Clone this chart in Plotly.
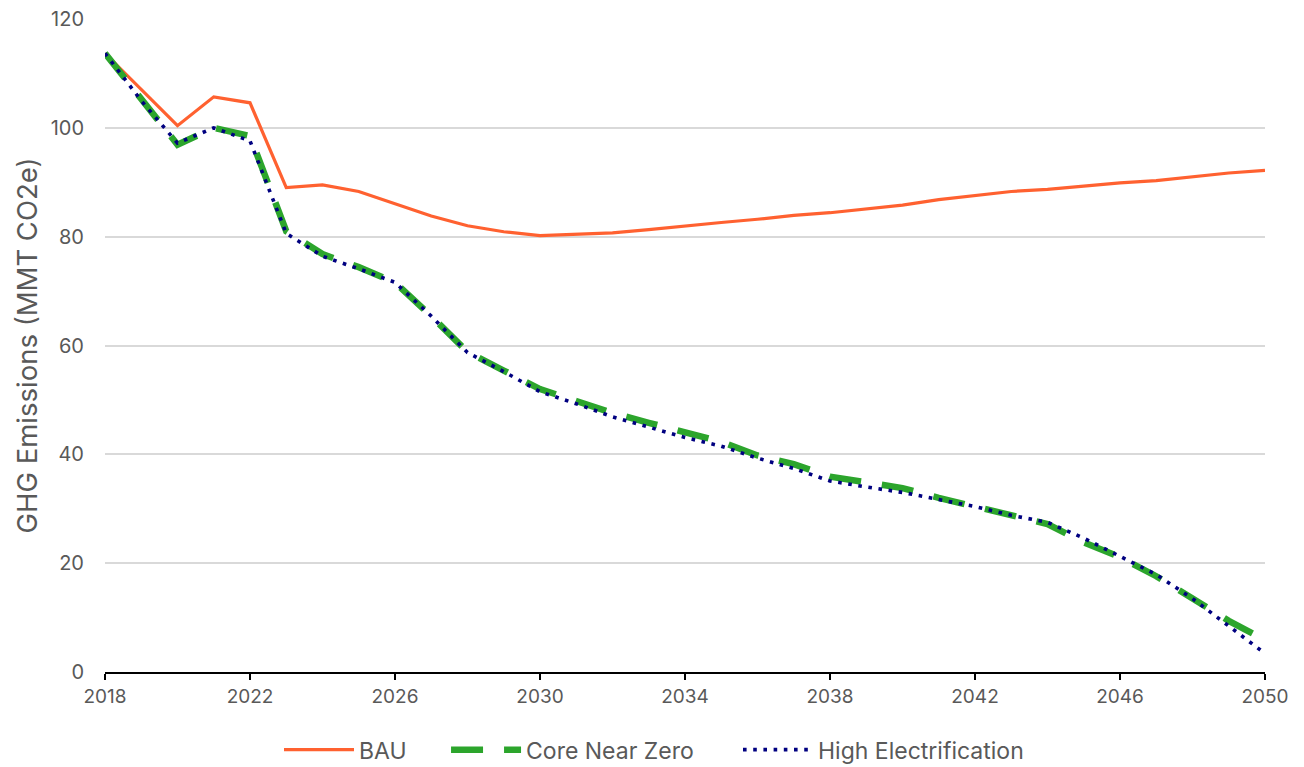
import plotly.graph_objects as go

# Annual GHG emissions by scenario, 2018-2050 (MMT CO2e)
years = list(range(2018, 2051))

bau = [113.7, 107.0, 100.4, 105.7, 104.6, 89.0, 89.5, 88.3, 86.0, 83.8,
       82.0, 80.9, 80.2, 80.4, 80.7, 81.3, 82.0, 82.6, 83.2, 83.9,
       84.4, 85.1, 85.8, 86.8, 87.6, 88.3, 88.7, 89.3, 89.9, 90.3,
       91.0, 91.7, 92.2]

core_near_zero = [113.7, 105.2, 96.9, 100.0, 98.5, 81.0, 76.8, 74.4, 71.6, 65.4,
                  58.8, 55.4, 52.0, 49.8, 47.6, 45.8, 44.2, 42.3, 39.8, 38.2,
                  35.9, 34.7, 33.8, 32.0, 30.4, 28.8, 27.2, 23.8, 21.1, 17.6,
                  13.5, 9.4, 5.9]

high_electrification = [113.7, 105.0, 97.2, 100.0, 97.6, 80.6, 76.4, 74.1, 71.6, 65.4,
                        58.7, 55.2, 51.5, 49.3, 46.9, 45.0, 43.1, 41.5, 39.3, 37.4,
                        35.1, 34.0, 33.0, 31.7, 30.4, 28.8, 27.5, 24.6, 21.3, 17.9,
                        13.5, 8.5, 3.4]

y_ticks = [0, 20, 40, 60, 80, 100, 120]
x_ticks = list(range(2018, 2051, 4))

FONT = "Inter, Lato, sans-serif"
TEXT_GREY = "#595959"

fig = go.Figure()

fig.add_trace(go.Scatter(
    x=years, y=bau, name="BAU", mode="lines", legend="legend",
    line=dict(color="#FF6130", width=3.2),
))
fig.add_trace(go.Scatter(
    x=years, y=core_near_zero, name="Core Near Zero", mode="lines", legend="legend2",
    line=dict(color="#2CA52C", width=6.5, dash="32px,21px"),
))
fig.add_trace(go.Scatter(
    x=years, y=high_electrification, name="High Electrification", mode="lines",
    legend="legend3",
    line=dict(color="#000080", width=3.6, dash="3.6px,6.6px"),
))

# one legend box per series, laid out in a row under the plot
legend_style = dict(
    orientation="h", xanchor="left", y=-0.119, yanchor="middle",
    font=dict(size=23, color=TEXT_GREY, family=FONT), itemwidth=70,
    bgcolor="rgba(0,0,0,0)",
)

fig.update_layout(
    width=1304, height=767,
    margin=dict(l=105, r=39, t=19, b=95, autoexpand=False),
    paper_bgcolor="white", plot_bgcolor="white",
    font=dict(family=FONT, color=TEXT_GREY, size=20),
    showlegend=True,
    legend=dict(legend_style, x=0.150),
    legend2=dict(legend_style, x=0.2940),
    legend3=dict(legend_style, x=0.5457),
    xaxis=dict(
        range=[2018, 2050], tickmode="array", tickvals=x_ticks,
        ticktext=[str(v) for v in x_ticks],
        showgrid=False, zeroline=False,
        showline=True, linecolor="black", linewidth=2,
        ticks="outside", ticklen=6, tickwidth=2, tickcolor="black",
        tickfont=dict(size=19, color=TEXT_GREY),
    ),
    yaxis=dict(
        range=[0, 120], tickmode="array", tickvals=y_ticks,
        showgrid=True, gridcolor="#D9D9D9", gridwidth=1.5,
        zeroline=False, showline=False, ticks="",
        ticklabelstandoff=20,
        tickfont=dict(size=20, color=TEXT_GREY),
        title=dict(text="GHG Emissions (MMT CO2e)", font=dict(size=27.5, color=TEXT_GREY), standoff=5),
    ),
)

fig.write_html("out.html")
